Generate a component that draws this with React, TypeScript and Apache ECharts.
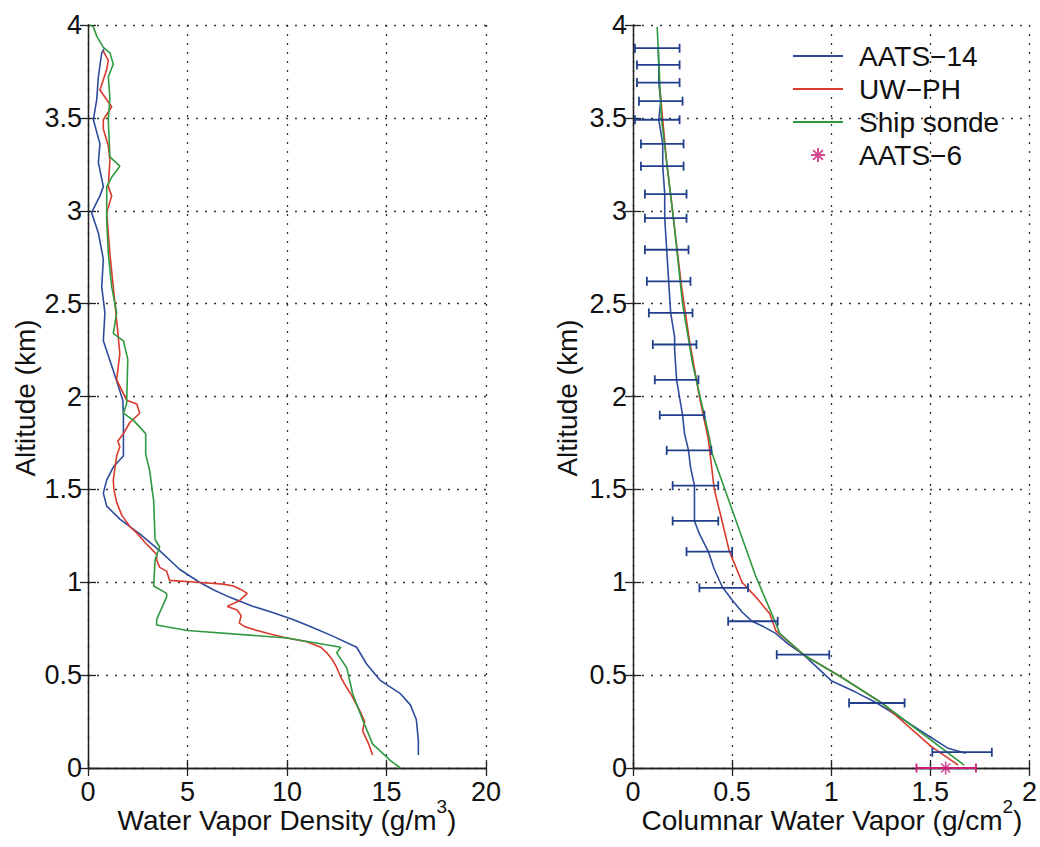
import React, { useEffect, useRef } from 'react';
import * as echarts from 'echarts';

// ---------- Left panel: water vapor density (g/m^3) vs altitude (km) ----------
const densAATS14: number[][] = [
  [16.6, 0.07], [16.6, 0.15], [16.5, 0.26], [16.2, 0.34], [15.7, 0.40], [14.7, 0.47], [14.0, 0.56],
  [13.5, 0.65], [12.3, 0.71], [11.2, 0.76], [10.3, 0.80], [9.2, 0.84], [8.3, 0.87], [7.1, 0.92],
  [6.3, 0.96], [5.6, 1.0], [4.6, 1.07], [3.6, 1.17], [2.6, 1.26], [1.6, 1.34], [0.94, 1.41],
  [0.77, 1.48], [0.94, 1.55], [1.27, 1.62], [1.78, 1.68], [1.78, 1.80], [1.78, 1.89], [1.75, 1.98],
  [1.27, 2.14], [0.77, 2.30], [0.85, 2.45], [0.69, 2.59], [0.77, 2.74], [0.52, 2.88], [0.18, 2.99],
  [0.6, 3.08], [0.77, 3.13], [0.52, 3.26], [0.6, 3.36], [0.27, 3.49], [0.44, 3.60], [0.52, 3.72],
  [0.69, 3.85], [0.8, 3.87],
];
const densUWPH: number[][] = [
  [14.3, 0.07], [14.1, 0.13], [13.8, 0.20], [13.9, 0.25], [13.7, 0.30], [13.4, 0.36], [13.2, 0.40],
  [12.9, 0.45], [12.7, 0.49], [12.5, 0.54], [12.3, 0.58], [12.0, 0.62], [11.7, 0.65], [11.0, 0.68],
  [10.0, 0.70], [9.2, 0.72], [8.5, 0.74], [7.9, 0.76], [7.6, 0.78], [7.7, 0.82], [7.5, 0.85],
  [7.0, 0.87], [7.6, 0.90], [8.0, 0.94], [7.7, 0.96], [7.3, 0.98], [6.8, 0.99], [5.5, 1.0],
  [4.1, 1.01], [3.95, 1.06], [3.6, 1.08], [3.45, 1.12], [3.45, 1.15], [2.9, 1.21], [2.5, 1.26],
  [2.1, 1.30], [1.7, 1.36], [1.44, 1.43], [1.3, 1.50], [1.27, 1.55], [1.44, 1.68], [1.6, 1.73],
  [1.5, 1.76], [1.78, 1.80], [2.1, 1.86], [2.6, 1.91], [2.45, 1.96], [1.94, 1.98], [1.44, 2.09],
  [1.6, 2.23], [1.44, 2.41], [1.27, 2.59], [1.1, 2.77], [1.02, 2.88], [0.94, 2.99], [1.19, 3.08],
  [1.02, 3.13], [1.1, 3.27], [1.02, 3.35], [0.77, 3.44], [0.77, 3.49], [1.19, 3.56], [0.6, 3.65],
  [0.94, 3.76], [1.02, 3.81], [0.77, 3.86],
];
const densSonde: number[][] = [
  [15.7, 0.0], [15.2, 0.04], [14.3, 0.13], [13.8, 0.26], [13.3, 0.40], [13.0, 0.54], [12.5, 0.62],
  [12.7, 0.65], [10.0, 0.70], [5.0, 0.74], [3.45, 0.77], [3.45, 0.80], [3.95, 0.92], [3.95, 0.94],
  [3.3, 0.98], [3.37, 1.12], [3.6, 1.19], [3.37, 1.23], [3.3, 1.44], [3.1, 1.60], [2.9, 1.69],
  [2.9, 1.80], [2.3, 1.87], [1.78, 1.91], [1.94, 1.96], [2.0, 2.20], [1.78, 2.30], [1.27, 2.34],
  [1.44, 2.45], [1.19, 2.59], [1.02, 2.77], [0.94, 2.95], [0.94, 3.13], [1.19, 3.18], [1.6, 3.24],
  [1.1, 3.29], [1.02, 3.49], [1.1, 3.61], [1.02, 3.72], [1.27, 3.79], [1.1, 3.85], [0.77, 3.88],
  [0.44, 3.94], [0.27, 3.99], [0.1, 4.0],
];

// ---------- Right panel: columnar water vapor (g/cm^2) vs altitude (km) ----------
const cwvAATS14: number[][] = [
  [1.68, 0.08], [1.66, 0.085], [1.59, 0.106], [1.47, 0.187], [1.35, 0.27], [1.23, 0.35], [1.12, 0.41],
  [1.0, 0.47], [0.93, 0.54], [0.86, 0.61], [0.78, 0.67], [0.72, 0.725], [0.66, 0.76], [0.60, 0.79],
  [0.55, 0.84], [0.50, 0.905], [0.45, 0.976], [0.41, 1.07], [0.38, 1.165], [0.335, 1.26], [0.31, 1.33],
  [0.31, 1.43], [0.31, 1.52], [0.29, 1.62], [0.28, 1.71], [0.26, 1.80], [0.25, 1.90], [0.22, 2.09],
  [0.21, 2.25], [0.21, 2.32], [0.19, 2.45], [0.18, 2.62], [0.17, 2.79], [0.16, 2.96], [0.16, 3.09],
  [0.15, 3.24], [0.15, 3.36], [0.13, 3.49], [0.14, 3.59], [0.13, 3.69], [0.13, 3.785], [0.127, 3.875],
];
const errAlt: number[] = [3.875, 3.785, 3.69, 3.59, 3.49, 3.36, 3.24, 3.09, 2.96, 2.79, 2.62, 2.45, 2.28, 2.09, 1.90, 1.71, 1.52, 1.33, 1.165, 0.97, 0.79, 0.61, 0.35, 0.085];
const errLo: number[] = [0.01, 0.02, 0.02, 0.03, 0.01, 0.04, 0.04, 0.06, 0.06, 0.06, 0.07, 0.08, 0.10, 0.11, 0.135, 0.17, 0.20, 0.20, 0.27, 0.335, 0.48, 0.725, 1.09, 1.51];
const errHi: number[] = [0.235, 0.235, 0.235, 0.25, 0.235, 0.255, 0.255, 0.27, 0.27, 0.28, 0.29, 0.30, 0.32, 0.33, 0.36, 0.395, 0.43, 0.43, 0.50, 0.58, 0.73, 0.99, 1.37, 1.81];
const cwvUWPH: number[][] = [
  [1.64, 0.016], [1.505, 0.115], [1.255, 0.35], [1.05, 0.49], [0.86, 0.61], [0.72, 0.74], [0.69, 0.83],
  [0.62, 0.92], [0.55, 1.0], [0.485, 1.17], [0.44, 1.37], [0.41, 1.50], [0.38, 1.77], [0.335, 2.0],
  [0.285, 2.30], [0.245, 2.59], [0.205, 2.95], [0.17, 3.26], [0.135, 3.66],
];
const cwvSonde: number[][] = [
  [1.67, 0.016], [1.255, 0.35], [1.05, 0.49], [0.86, 0.61], [0.74, 0.725], [0.72, 0.78], [0.62, 1.03],
  [0.50, 1.39], [0.40, 1.69], [0.385, 1.78], [0.30, 2.18], [0.25, 2.50], [0.205, 2.95], [0.144, 3.49],
  [0.122, 3.99],
];
const aats6Point: number[][] = [[1.577, 0.0]];
const aats6ErrAlt: number[] = [0.0];
const aats6ErrLo: number[] = [1.43];
const aats6ErrHi: number[] = [1.73];

const seriesNames = ['AATS\u221214', 'UW\u2212PH', 'Ship sonde', 'AATS\u22126'];
const leftXTitle = 'Water Vapor Density (g/m';
const leftXSup = '3';
const rightXTitle = 'Columnar Water Vapor (g/cm';
const rightXSup = '2';
const yTitle = 'Altitude (km)';

const FONT = '"Liberation Sans", Arial, Helvetica, sans-serif';
const C_BLUE = '#2f4c9c';
const C_RED = '#d83a2c';
const C_GREEN = '#2f9a40';
const C_ERR = '#213f8a';
const C_MAG = '#c81e78';
const C_AXIS = '#222';

function makeErr(lo: number[], hi: number[], alt: number[]) {
  return alt.map((a, i) => [lo[i], hi[i], a]);
}

function errRender(color: string, cap: number) {
  return (params: any, api: any) => {
    const y = api.value(2);
    const p1 = api.coord([api.value(0), y]);
    const p2 = api.coord([api.value(1), y]);
    const style = { stroke: color, lineWidth: 1.8 };
    return {
      type: 'group',
      children: [
        { type: 'line', shape: { x1: p1[0], y1: p1[1], x2: p2[0], y2: p2[1] }, style },
        { type: 'line', shape: { x1: p1[0], y1: p1[1] - cap, x2: p1[0], y2: p1[1] + cap }, style },
        { type: 'line', shape: { x1: p2[0], y1: p2[1] - cap, x2: p2[0], y2: p2[1] + cap }, style },
      ],
    };
  };
}

const TICK_FONT = 27;

function mainX(grid: number, max: number, interval: number) {
  return {
    type: 'value', gridIndex: grid, position: 'bottom', min: 0, max, interval,
    axisLine: { show: true, lineStyle: { color: C_AXIS, width: 1.3 } },
    axisTick: { show: true, inside: true, length: 8, lineStyle: { color: C_AXIS, width: 1.3 } },
    axisLabel: { show: true, margin: 10, fontSize: TICK_FONT, color: '#111', fontFamily: FONT },
    splitLine: { show: true, lineStyle: { type: [2, 7], color: '#333', width: 1.3 } },
  };
}
function frameX(grid: number, max: number, interval: number) {
  return {
    type: 'value', gridIndex: grid, position: 'top', min: 0, max, interval,
    axisLine: { show: true, lineStyle: { color: C_AXIS, width: 1.3 } },
    axisTick: { show: true, inside: true, length: 8, lineStyle: { color: C_AXIS, width: 1.3 } },
    axisLabel: { show: false }, splitLine: { show: false },
  };
}
function mainY(grid: number) {
  return {
    type: 'value', gridIndex: grid, position: 'left', min: 0, max: 4, interval: 0.5,
    axisLine: { show: true, lineStyle: { color: C_AXIS, width: 1.3 } },
    axisTick: { show: true, inside: true, length: 8, lineStyle: { color: C_AXIS, width: 1.3 } },
    axisLabel: { show: true, margin: 6, fontSize: TICK_FONT, color: '#111', fontFamily: FONT },
    splitLine: { show: true, lineStyle: { type: [2, 7], color: '#333', width: 1.3 } },
  };
}
function frameY(grid: number) {
  return {
    type: 'value', gridIndex: grid, position: 'right', min: 0, max: 4, interval: 0.5,
    axisLine: { show: true, lineStyle: { color: C_AXIS, width: 1.3 } },
    axisTick: { show: true, inside: true, length: 8, lineStyle: { color: C_AXIS, width: 1.3 } },
    axisLabel: { show: false }, splitLine: { show: false },
  };
}

function lineSeries(name: string, data: number[][], color: string, xi: number, yi: number) {
  return {
    name, type: 'line', data, xAxisIndex: xi, yAxisIndex: yi, symbol: 'none', smooth: false,
    lineStyle: { color, width: 1.6 }, itemStyle: { color }, z: 3,
  };
}

const starPath = 'path://M0,-6L0,6M-6,0L6,0M-4.2,-4.2L4.2,4.2M-4.2,4.2L4.2,-4.2';

function titleText(main: string, sup: string, x: number, y: number) {
  return {
    type: 'text', x, y, z: 10,
    style: {
      text: `{a|${main}}{s|${sup}}{a|)}`,
      align: 'center', verticalAlign: 'middle',
      rich: {
        a: { fontSize: 28, fontFamily: FONT, fill: '#111', lineHeight: 46 },
        s: { fontSize: 19, fontFamily: FONT, fill: '#111', verticalAlign: 'top', lineHeight: 20 },
      },
    },
  };
}

export default function App() {
  const ref = useRef<HTMLDivElement>(null);
  useEffect(() => {
    const chart = echarts.init(ref.current!, null, { renderer: 'svg' });
    const hideDot = { opacity: 0 };
    const option: any = {
      animation: false,
      backgroundColor: '#fff',
      grid: [
        { left: 88, top: 25, width: 398, height: 743 },
        { left: 633, top: 25, width: 399, height: 743 },
      ],
      xAxis: [mainX(0, 20, 5), frameX(0, 20, 5), mainX(1, 2, 0.5), frameX(1, 2, 0.5)],
      yAxis: [mainY(0), frameY(0), mainY(1), frameY(1)],
      legend: {
        orient: 'vertical', left: 792, top: 42, padding: 0, itemWidth: 50, itemHeight: 14, itemGap: 5,
        data: [
          { name: seriesNames[0], itemStyle: hideDot },
          { name: seriesNames[1], itemStyle: hideDot },
          { name: seriesNames[2], itemStyle: hideDot },
          { name: seriesNames[3] },
        ],
        textStyle: { fontSize: 28, fontFamily: FONT, color: '#111', lineHeight: 28, padding: [0, 0, 0, 11] },
      },
      series: [
        lineSeries(seriesNames[0], densAATS14, C_BLUE, 0, 0),
        lineSeries(seriesNames[1], densUWPH, C_RED, 0, 0),
        lineSeries(seriesNames[2], densSonde, C_GREEN, 0, 0),
        {
          name: 'errbars', type: 'custom', xAxisIndex: 2, yAxisIndex: 2,
          data: makeErr(errLo, errHi, errAlt), encode: { x: [0, 1], y: 2 },
          renderItem: errRender(C_ERR, 4.5), z: 4, clip: false,
        },
        lineSeries(seriesNames[0], cwvAATS14, C_BLUE, 2, 2),
        lineSeries(seriesNames[1], cwvUWPH, C_RED, 2, 2),
        lineSeries(seriesNames[2], cwvSonde, C_GREEN, 2, 2),
        {
          name: 'aats6err', type: 'custom', xAxisIndex: 2, yAxisIndex: 2,
          data: makeErr(aats6ErrLo, aats6ErrHi, aats6ErrAlt), encode: { x: [0, 1], y: 2 },
          renderItem: errRender(C_MAG, 4.5), z: 5, clip: false,
        },
        {
          name: seriesNames[3], type: 'scatter', xAxisIndex: 2, yAxisIndex: 2, data: aats6Point,
          symbol: starPath, symbolSize: 13, clip: false, z: 6,
          itemStyle: { color: 'rgba(0,0,0,0)', borderColor: C_MAG, borderWidth: 1.6 },
        },
      ],
      graphic: [
        { type: 'text', x: 25, y: 398, rotation: Math.PI / 2, z: 10,
          style: { text: yTitle, fontSize: 28, fontFamily: FONT, fill: '#111', align: 'center', verticalAlign: 'middle' } },
        { type: 'text', x: 567, y: 398, rotation: Math.PI / 2, z: 10,
          style: { text: yTitle, fontSize: 28, fontFamily: FONT, fill: '#111', align: 'center', verticalAlign: 'middle' } },
        titleText(leftXTitle, leftXSup, 287, 820),
        titleText(rightXTitle, rightXSup, 832, 820),
      ],
    };
    chart.setOption(option);
    return () => chart.dispose();
  }, []);
  return <div ref={ref} style={{ position: 'fixed', left: 0, top: 0, width: 1040, height: 847 }} />;
}
